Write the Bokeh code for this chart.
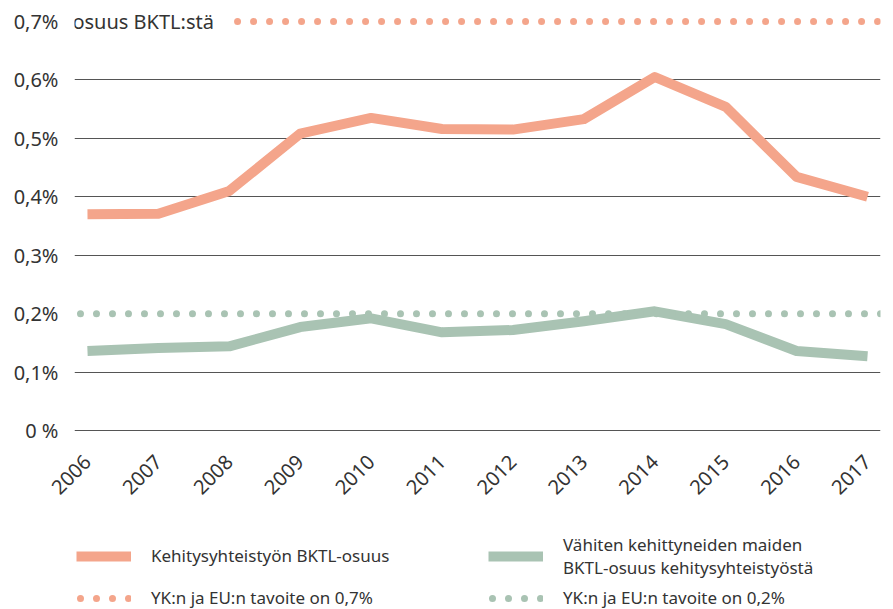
import math
from bokeh.plotting import figure
from bokeh.layouts import column
from bokeh.models import FixedTicker, Label, Legend, LegendItem, Range1d
from bokeh.embed import file_html
from bokeh.resources import INLINE

# ---- data ----
years = [2006, 2007, 2008, 2009, 2010, 2011, 2012, 2013, 2014, 2015, 2016, 2017]
bktl_share = [0.370, 0.371, 0.410, 0.508, 0.535, 0.516, 0.515, 0.533, 0.605, 0.554, 0.434, 0.400]
ldc_share = [0.136, 0.141, 0.144, 0.177, 0.192, 0.168, 0.172, 0.187, 0.204, 0.182, 0.136, 0.127]
target_07 = 0.7
target_02 = 0.2
target_07_span = [2008.06, 2017.2]
target_02_span = [2005.845, 2017.2]
y_ticks = [0, 0.1, 0.2, 0.3, 0.4, 0.5, 0.6, 0.7]
y_tick_labels = ["0 %", "0,1%", "0,2%", "0,3%", "0,4%", "0,5%", "0,6%", "0,7%"]
grid_ticks = [0, 0.1, 0.3, 0.4, 0.5, 0.6]
y_note = "osuus BKTL:stä"
legend_labels = [
    "Kehitysyhteistyön BKTL-osuus",
    "YK:n ja EU:n tavoite on 0,7%",
    "Vähiten kehittyneiden maiden\nBKTL-osuus kehitysyhteistyöstä",
    "YK:n ja EU:n tavoite on 0,2%",
]

ORANGE = "#F4A58B"
GREEN = "#A9C3B3"
TEXT = "#333333"
GRID = "#555555"
FONT = "Noto Sans"
DOT = dict(line_width=7, line_dash="0 16", line_dash_offset=12, line_cap="round")

p = figure(frame_width=806, frame_height=420, output_backend="svg", toolbar_location=None,
           x_range=Range1d(2005.817, 2017.183), y_range=Range1d(-0.00513, 0.71369),
           min_border_left=74, min_border_right=5, min_border_top=13, min_border_bottom=87)
p.outline_line_color = None
p.background_fill_color = "white"

# grid
p.xgrid.visible = False
p.ygrid.ticker = FixedTicker(ticks=grid_ticks)
p.ygrid.grid_line_color = GRID
p.ygrid.grid_line_width = 1.2

# axes
p.yaxis.ticker = FixedTicker(ticks=y_ticks)
p.yaxis.major_label_overrides = {t: l for t, l in zip(y_ticks, y_tick_labels)}
p.yaxis.axis_line_color = None
p.yaxis.major_tick_line_color = None
p.yaxis.minor_tick_line_color = None
p.yaxis.major_label_standoff = 10
p.yaxis.major_label_text_font = FONT
p.yaxis.major_label_text_font_size = "20px"
p.yaxis.major_label_text_color = TEXT

p.xaxis.ticker = FixedTicker(ticks=years)
p.xaxis.axis_line_color = None
p.xaxis.major_tick_line_color = None
p.xaxis.minor_tick_line_color = None
p.xaxis.major_label_orientation = math.pi / 4
p.xaxis.major_label_standoff = 19
p.xaxis.major_label_text_font = FONT
p.xaxis.major_label_text_font_size = "20px"
p.xaxis.major_label_text_color = TEXT

# target lines (dotted)
p.line(target_07_span, [target_07, target_07], line_color=ORANGE, **DOT)
# main lines
p.line(years, bktl_share, line_color=ORANGE, line_width=10, line_join="round")
p.line(years, ldc_share, line_color=GREEN, line_width=10, line_join="round")
p.line(target_02_span, [target_02, target_02], line_color=GREEN, **DOT)

p.add_layout(Label(x=2005.788, y=target_07, text=y_note, text_font=FONT, text_font_size="20px",
                   text_color=TEXT, text_baseline="middle", text_align="left"))

# ---- legend figure (its frame is aligned with the chart frame) ----
lf = figure(width=885, height=89, output_backend="svg", toolbar_location=None,
            x_range=Range1d(0, 1), y_range=Range1d(0, 1),
            min_border=0, min_border_left=0, min_border_right=0, min_border_top=0, min_border_bottom=0)
lf.axis.visible = False
lf.grid.visible = False
lf.outline_line_color = None

# legend-key renderers: drawn outside the visible range, used only for the legend swatches
key_x = [-5, -4]
key_y = [-5, -4]
k_bktl = lf.line(key_x, key_y, line_color=ORANGE, line_width=10)
k_t07 = lf.line(key_x, key_y, line_color=ORANGE, **DOT)
k_ldc = lf.line(key_x, key_y, line_color=GREEN, line_width=10)
k_t02 = lf.line(key_x, key_y, line_color=GREEN, **DOT)


def make_legend(items, loc, spacing):
    lg = Legend(items=items, location=loc)
    lg.glyph_width = 55
    lg.glyph_height = 20
    lg.label_standoff = 20
    lg.label_text_font = FONT
    lg.label_text_font_size = "17px"
    lg.label_text_color = TEXT
    lg.label_height = 20
    lg.border_line_color = None
    lg.background_fill_alpha = 0
    lg.padding = 0
    lg.margin = 0
    lg.spacing = spacing
    return lg


leg1 = make_legend([LegendItem(label=legend_labels[0], renderers=[k_bktl]),
                    LegendItem(label=legend_labels[1], renderers=[k_t07])], (2, 0), 19)
leg2 = make_legend([LegendItem(label=legend_labels[2], renderers=[k_ldc]),
                    LegendItem(label=legend_labels[3], renderers=[k_t02])], (414, 0), 7)
lf.add_layout(leg1)
lf.add_layout(leg2)

open("out.html", "w").write(file_html(column(p, lf, spacing=0), INLINE))
